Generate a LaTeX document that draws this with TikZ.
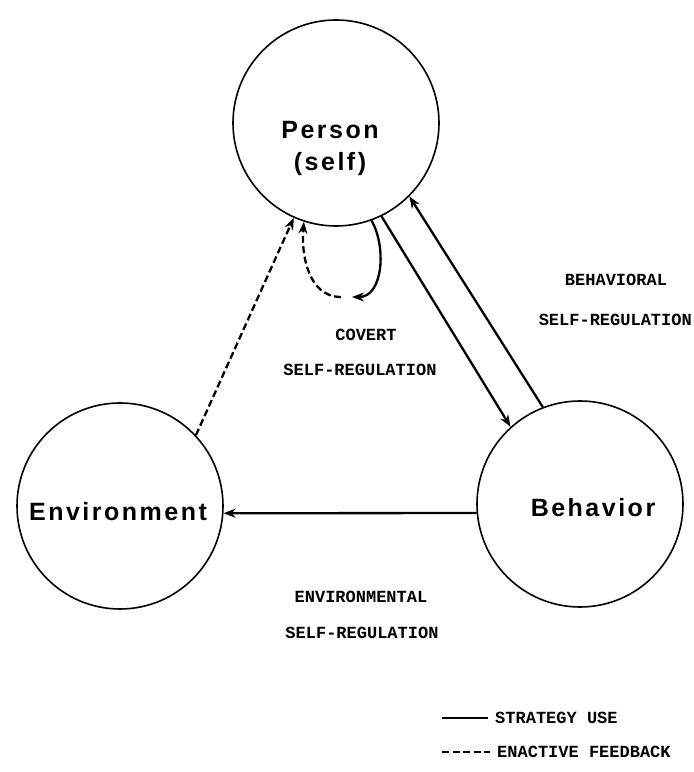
\documentclass[tikz,border=0pt]{standalone}
\usepackage{fontspec}
\newfontfamily\agentfont[LetterSpace=10]{Liberation Sans}
\newfontfamily\typefont{Liberation Mono}
\usetikzlibrary{arrows.meta}

\tikzset{
  agent/.style     = {draw, circle, line width=1.6pt, minimum size=206pt, inner sep=0pt},
  agentname/.style = {font=\agentfont\bfseries\fontsize{25}{32}\selectfont, align=center},
  typed/.style     = {font=\typefont\bfseries\fontsize{17}{20}\selectfont, inner sep=0pt},
  strategy/.style  = {->, line width=2.3pt},
  feedback/.style  = {->, line width=2.3pt, dash pattern=on 7pt off 3.5pt},
}

\begin{document}
\begin{tikzpicture}[x=1pt, y=1pt, >={Stealth[length=12pt, width=9pt]}]
    \useasboundingbox (0,0) rectangle (694,772);
    % the three circles of the triad
    \node[agent] (person)      at (336,649) {};
    \node[agent] (environment) at (120,266) {};
    \node[agent] (behavior)    at (580,268) {};
    \node[agentname] (personname)      at (330,624) {Person\\(self)};
    \node[agentname] (environmentname) at (118,260) {Environment};
    \node[agentname] (behaviorname)    at (593,264) {Behavior};

    % connectors between the circles
    \draw[strategy] (person.-64)     -- (behavior.132);
    \draw[strategy] (behavior.111)   -- (person.-45);
    \draw[strategy] (behavior.185)   -- (environment.-4);
    \draw[feedback] (environment.43) -- (person.-114);

    % covert loop below the person
    \coordinate (loopright) at (352,475);
    \coordinate (loopleft)  at (341,475);
    \draw[strategy] (person.-70) to[out=-60, in=0] (loopright);
    \draw[feedback] (loopleft) to[out=180, in=-95] (person.-108);

    % labels
    \node[typed] (covert)     at (366,437) {COVERT};
    \node[typed] (covertreg)  at (360,402) {SELF-REGULATION};
    \node[typed] (behav)      at (616,492) {BEHAVIORAL};
    \node[typed, anchor=east] (behavreg) at (692,452) {SELF-REGULATION};
    \node[typed] (environ)    at (361,175) {ENVIRONMENTAL};
    \node[typed] (environreg) at (362,139) {SELF-REGULATION};

    % legend
    \node[typed, anchor=west] (strategyuse) at (495,54) {STRATEGY USE};
    \node[typed, anchor=west] (enactive)    at (497,20) {ENACTIVE FEEDBACK};
    \coordinate (legsolid)  at (442,54);
    \coordinate (legdashed) at (442,20);
    \draw[line width=2.3pt] (legsolid) -- ([xshift=-7pt]strategyuse.west);
    \draw[line width=2.3pt, dash pattern=on 7pt off 3.5pt] (legdashed) -- ([xshift=-7pt]enactive.west);
  \end{tikzpicture}
\end{document}
